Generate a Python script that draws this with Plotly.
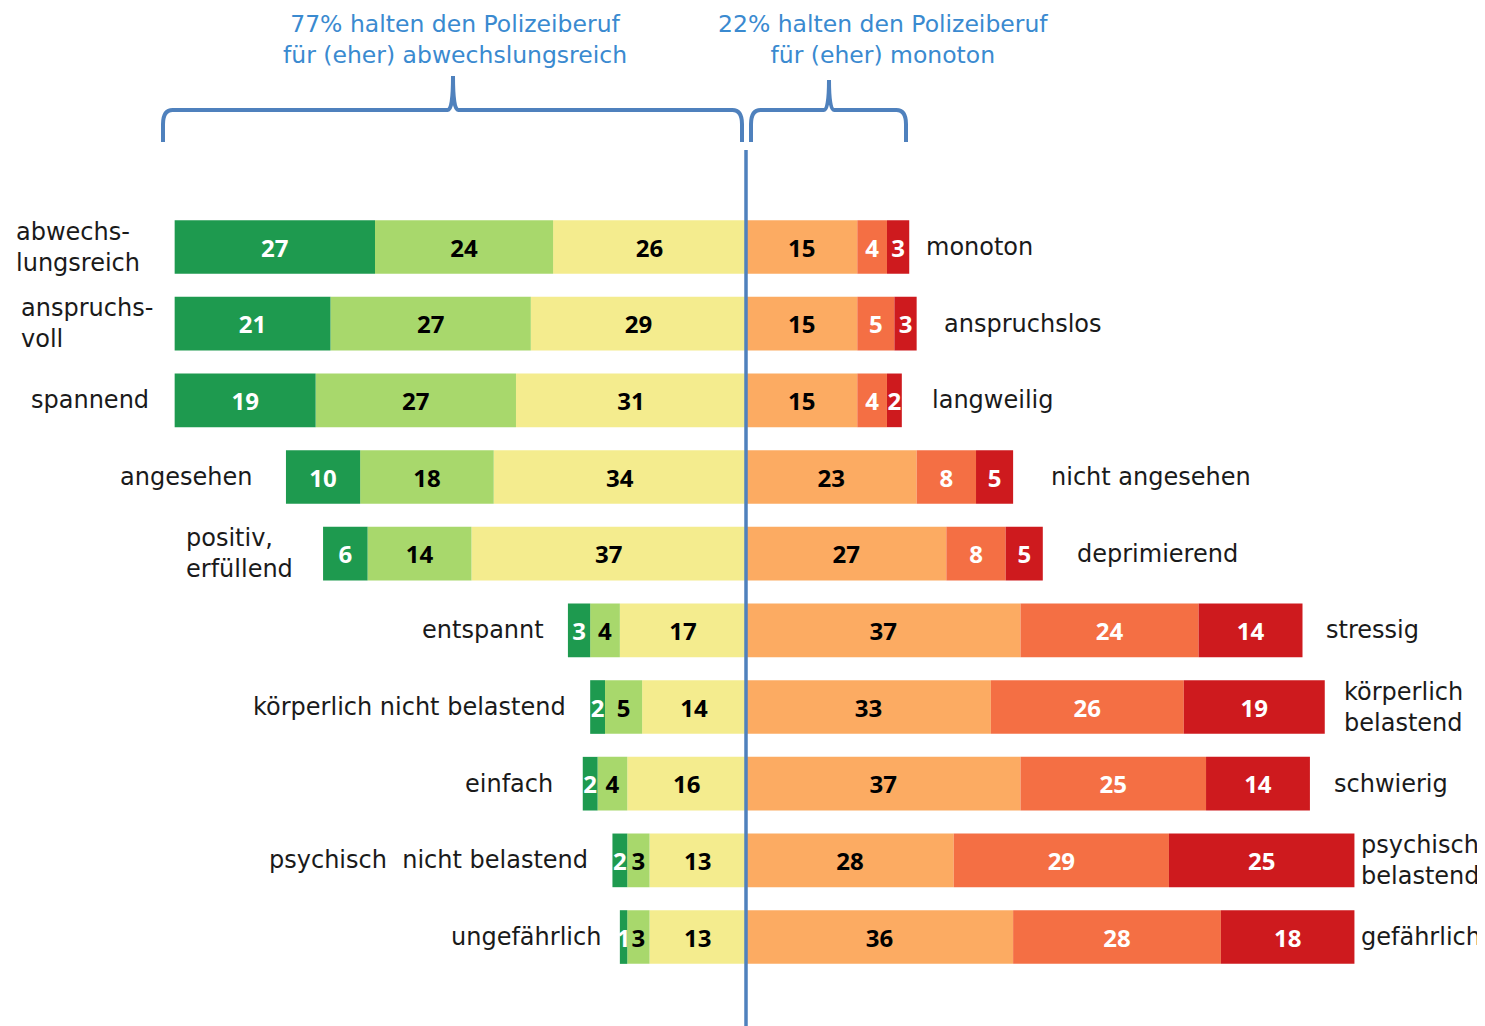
import plotly.graph_objects as go

# ---------------- data ----------------
left_labels = ["abwechs-<br>lungsreich", "anspruchs-<br>voll", "spannend", "angesehen",
               "positiv,<br>erfüllend", "entspannt", "körperlich nicht belastend", "einfach",
               "psychisch\u00a0 nicht belastend", "ungefährlich"]
right_labels = ["monoton", "anspruchslos", "langweilig", "nicht angesehen", "deprimierend",
                "stressig", "körperlich<br>belastend", "schwierig", "psychisch<br>belastend",
                "gefährlich"]
sehr_pos = [27, 21, 19, 10, 6, 3, 2, 2, 2, 1]
eher_pos = [24, 27, 27, 18, 14, 4, 5, 4, 3, 3]
etwas_pos = [26, 29, 31, 34, 37, 17, 14, 16, 13, 13]
etwas_neg = [15, 15, 15, 23, 27, 37, 33, 37, 28, 36]
eher_neg = [4, 5, 4, 8, 8, 24, 26, 25, 29, 28]
sehr_neg = [3, 3, 2, 5, 5, 14, 19, 14, 25, 18]

rows = list(range(len(left_labels)))

# ---------------- styling ----------------
# label gaps (pixels) between bar end and category label
left_gap_px = [33, 20, 24, 32, 28, 22, 22, 28, 22, 17]
right_gap_px = [15, 25, 28, 36, 32, 21, 17, 22, 5, 5]

FONT = "DejaVu Sans"
NUMFONT = "Open Sans"
C_DG, C_LG, C_YE = "#1e9a4f", "#a8d86c", "#f4ec8e"
C_OR, C_CO, C_RE = "#fcab62", "#f46f44", "#ce1a1e"
BLUE = "#4f81bd"
TXTBLUE = "#3a8ad0"

W, H = 1477, 1018          # figure size (page has an 8px body margin)
OFF = 8                    # offset of the figure in the page
CENTER_PX = 746 - OFF      # x pixel of the zero line
SCALE = 7.42               # pixels per percentage point
ROW0_PX = 247 - OFF        # y pixel of first row
ROW_STEP = 76.67           # pixels between rows

def py(ref_px):            # page pixel -> paper y
    return 1 - (ref_px - OFF) / H

def dx(ref_px):            # page pixel -> data x
    return (ref_px - OFF - CENTER_PX) / SCALE

fig = go.Figure()

def add(vals, color, txtcolor, sign):
    fig.add_trace(go.Bar(
        y=rows, x=[sign * v for v in vals], orientation="h",
        marker=dict(color=color, line=dict(width=0)),
        text=[str(v) for v in vals], textposition="inside",
        insidetextanchor="middle", textangle=0, constraintext="none",
        textfont=dict(family=NUMFONT, size=24, color=txtcolor, weight="bold"),
        width=0.7, hoverinfo="skip", showlegend=False, cliponaxis=False,
    ))

add(etwas_pos, C_YE, "#000000", -1)
add(eher_pos, C_LG, "#000000", -1)
add(sehr_pos, C_DG, "#ffffff", -1)
add(etwas_neg, C_OR, "#000000", 1)
add(eher_neg, C_CO, "#ffffff", 1)
add(sehr_neg, C_RE, "#ffffff", 1)

# category labels
for i in rows:
    lt = sehr_pos[i] + eher_pos[i] + etwas_pos[i]
    rt = etwas_neg[i] + eher_neg[i] + sehr_neg[i]
    fig.add_annotation(x=-lt, xshift=-left_gap_px[i], y=i, text=left_labels[i], showarrow=False,
                       xanchor="right", yanchor="middle", align="left",
                       font=dict(family=FONT, size=24, color="#1a1a1a"))
    fig.add_annotation(x=rt, xshift=right_gap_px[i], y=i, text=right_labels[i], showarrow=False,
                       xanchor="left", yanchor="middle", align="left",
                       font=dict(family=FONT, size=24, color="#1a1a1a"))

# center line
fig.add_shape(type="line", xref="x", yref="paper", x0=0, x1=0, y0=0, y1=py(150),
              line=dict(color=BLUE, width=3.5))

# braces
def brace(x0, x1, xm, yh, yb, yp, rx=1.3, ry=0.014, rm=0.7):
    return (f"M {x0},{yb} L {x0},{yh - ry} Q {x0},{yh} {x0 + rx},{yh} "
            f"L {xm - rm},{yh} Q {xm},{yh} {xm},{yp} Q {xm},{yh} {xm + rm},{yh} "
            f"L {x1 - rx},{yh} Q {x1},{yh} {x1},{yh - ry} L {x1},{yb}")

left_total = sehr_pos[0] + eher_pos[0] + etwas_pos[0]
right_total = etwas_neg[0] + eher_neg[0] + sehr_neg[0]
yh, yb = py(110), py(142)
fig.add_shape(type="path", xref="x", yref="paper",
              path=brace(dx(163), dx(742), dx(453), yh, yb, py(76)),
              line=dict(color=BLUE, width=4))
fig.add_shape(type="path", xref="x", yref="paper",
              path=brace(dx(751), dx(906), dx(829), yh, yb, py(80)),
              line=dict(color=BLUE, width=4))

fig.add_annotation(xref="x", yref="paper", x=dx(455), y=py(40), showarrow=False,
                   text=f"{left_total}% halten den Polizeiberuf<br>für (eher) abwechslungsreich",
                   font=dict(family=FONT, size=23.5, color=TXTBLUE), align="center",
                   xanchor="center", yanchor="middle")
fig.add_annotation(xref="x", yref="paper", x=dx(883), y=py(40), showarrow=False,
                   text=f"{right_total}% halten den Polizeiberuf<br>für (eher) monoton",
                   font=dict(family=FONT, size=23.5, color=TXTBLUE), align="center",
                   xanchor="center", yanchor="middle")

fig.update_layout(
    width=W, height=H, barmode="relative", bargap=0.3,
    margin=dict(l=0, r=0, t=0, b=0),
    paper_bgcolor="white", plot_bgcolor="white",
    xaxis=dict(range=[-CENTER_PX / SCALE, (W - CENTER_PX) / SCALE], visible=False, fixedrange=True),
    yaxis=dict(range=[9 + (H - ROW0_PX - 9 * ROW_STEP) / ROW_STEP, -ROW0_PX / ROW_STEP],
               visible=False, fixedrange=True),
)

fig.write_html("out.html")
